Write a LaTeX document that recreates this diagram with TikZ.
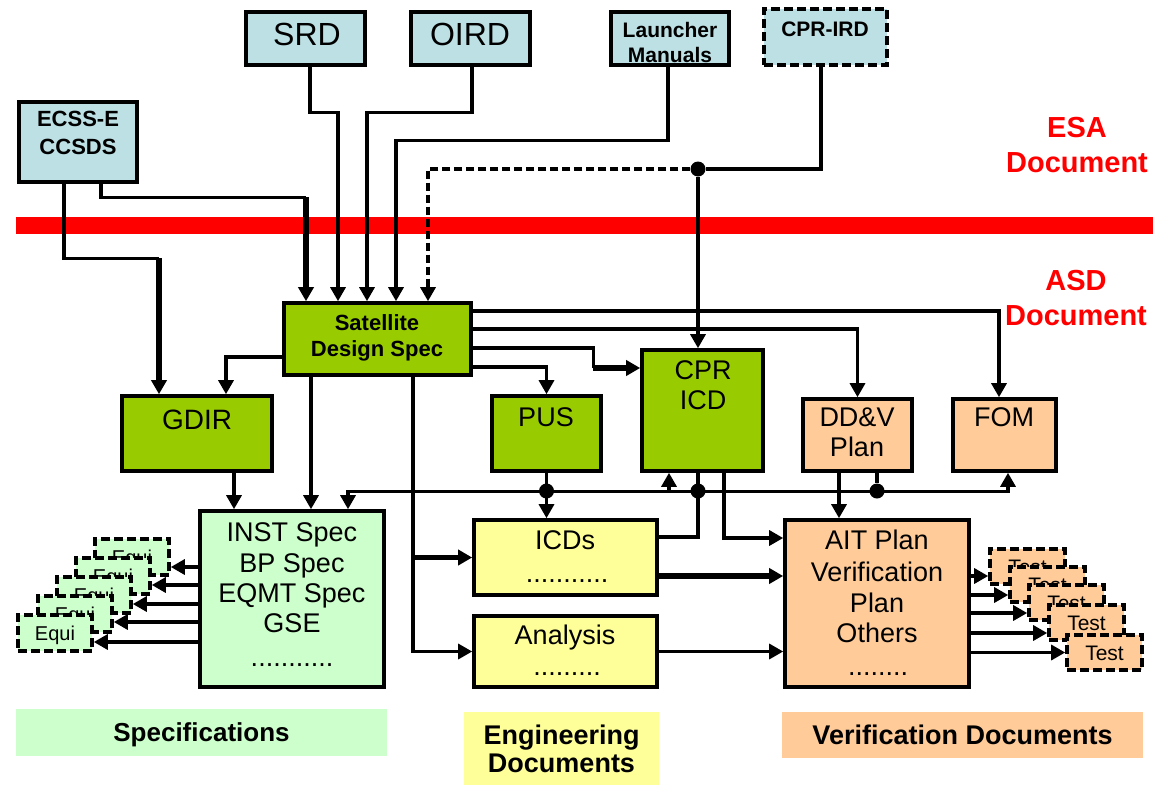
\documentclass[tikz,border=0pt]{standalone}
\usepackage{fontspec}
\setmainfont{Liberation Sans}
\usetikzlibrary{arrows.meta}
\definecolor{esablue}{RGB}{188,224,228}
\definecolor{asdgreen}{RGB}{153,204,0}
\definecolor{specgreen}{RGB}{204,255,204}
\definecolor{engyellow}{RGB}{255,255,153}
\definecolor{veforange}{RGB}{255,204,153}
\begin{document}
\begin{tikzpicture}[x=1pt, y=-1pt,
  >={Triangle[length=14pt,width=15pt]},
  docbox/.style={draw, line width=3.6pt, inner sep=0pt},
  esabox/.style={docbox, fill=esablue},
  asdbox/.style={docbox, fill=asdgreen},
  specbox/.style={docbox, fill=specgreen},
  engbox/.style={docbox, fill=engyellow},
  verbox/.style={docbox, fill=veforange},
  dashbox/.style={dash pattern=on 9pt off 4pt},
  equibox/.style={specbox, dashbox, minimum width=74pt, minimum height=36pt,
    font=\fontsize{20}{24}\selectfont, text height=14.3pt, text depth=0pt},
  testbox/.style={verbox, dashbox, minimum width=75pt, minimum height=35pt,
    font=\fontsize{21}{24}\selectfont, text height=15pt, text depth=0pt},
  lbl/.style={inner sep=0pt, text depth=0pt, text height=19.3pt, font=\fontsize{27}{31}\selectfont},
  lblbig/.style={lbl, text height=22.9pt, font=\fontsize{32}{36}\selectfont},
  lblsm/.style={lbl, text height=15pt, font=\bfseries\fontsize{21}{24}\selectfont},
  lblmid/.style={lbl, text height=15.8pt, font=\bfseries\fontsize{22}{25}\selectfont},
  dotrow/.style={inner sep=0pt, anchor=base, font=\fontsize{27}{31}\selectfont},
  redlbl/.style={inner sep=0pt, align=center, text=red, font=\bfseries\fontsize{29}{34.5}\selectfont},
  catlbl/.style={inner sep=0pt, font=\bfseries\fontsize{27}{28}\selectfont},
  conn/.style={draw, line width=3.2pt},
  heavy/.style={draw, line width=5.5pt},
  dashconn/.style={conn, dash pattern=on 8pt off 4pt},
  dot/.style={circle, fill=black, inner sep=0pt, minimum size=15pt}]
\useasboundingbox (0,0) rectangle (1153,785);

% border between ESA and ASD documents
\fill[red] (16,217) rectangle (1153,234);
\node[redlbl] (esa-l) at (1077,145) {ESA\\Document};
\node[redlbl] (asd-l) at (1076,298) {ASD\\Document};

% ESA documents
\node[esabox, minimum width=119pt, minimum height=53pt] (srd) at (305.5,38.5) {};
\node[esabox, minimum width=119pt, minimum height=53pt] (oird) at (470.5,38.5) {};
\node[esabox, minimum width=118pt, minimum height=53pt] (lm) at (670,38.5) {};
\node[esabox, dashbox, minimum width=123pt, minimum height=56pt] (cprird) at (825.5,37) {};
\node[esabox, minimum width=118pt, minimum height=80pt] (ecss) at (78,142) {};
\node[lblbig] (srd-t) at (307,34) {SRD};
\node[lblbig] (oird-t) at (470,34) {OIRD};
\node[lblsm] (lm-t1) at (670,30) {Launcher};
\node[lblsm] (lm-t2) at (670,55) {Manuals};
\node[lblsm] (cprird-t) at (825,29) {CPR-IRD};
\node[lblmid] (ecss-t1) at (78,119) {ECSS-E};
\node[lblmid] (ecss-t2) at (78,147) {CCSDS};

% ASD documents
\node[asdbox, minimum width=187pt, minimum height=72pt] (sds) at (377.5,339) {};
\node[lblmid] (sds-t1) at (377,323) {Satellite};
\node[lblmid] (sds-t2) at (377,349) {Design Spec};
\node[asdbox, minimum width=150pt, minimum height=75pt] (gdir) at (197,433.5) {};
\node[lbl, font=\fontsize{28}{31}\selectfont, text height=20pt] (gdir-t) at (197,419) {GDIR};
\node[asdbox, minimum width=109pt, minimum height=75pt] (pus) at (546.5,433.5) {};
\node[lbl] (pus-t) at (546,417) {PUS};
\node[asdbox, minimum width=121pt, minimum height=121pt] (cpricd) at (702.5,410.5) {};
\node[lbl] (cpricd-t1) at (703,370) {CPR};
\node[lbl] (cpricd-t2) at (703,400) {ICD};
\node[verbox, minimum width=109pt, minimum height=72pt] (ddv) at (857.5,435) {};
\node[lbl] (ddv-t1) at (857,417) {DD\&V};
\node[lbl] (ddv-t2) at (857,447) {Plan};
\node[verbox, minimum width=103pt, minimum height=72pt] (fom) at (1004.5,435) {};
\node[lbl] (fom-t) at (1004,417) {FOM};

% specifications
\node[specbox, minimum width=184pt, minimum height=176pt] (inst) at (292,599) {};
\node[lbl] (inst-t1) at (292,532) {INST Spec};
\node[lbl] (inst-t2) at (292,563) {BP Spec};
\node[lbl] (inst-t3) at (292,593) {EQMT Spec};
\node[lbl] (inst-t4) at (292,623) {GSE};
\node[dotrow] (inst-t5) at (292,666) {...........};
\node[equibox] (eq1) at (132,557) {Equi};
\node[equibox] (eq2) at (113,576) {Equi};
\node[equibox] (eq3) at (94,595) {Equi};
\node[equibox] (eq4) at (75,614) {Equi};
\node[equibox] (eq5) at (55,633) {Equi};

% engineering documents
\node[engbox, minimum width=183pt, minimum height=75pt] (icds) at (565.5,557.5) {};
\node[lbl] (icds-t) at (565,540) {ICDs};
\node[dotrow] (icds-d) at (567,582) {...........};
\node[engbox, minimum width=183pt, minimum height=71pt] (anal) at (565.5,651.5) {};
\node[lbl] (anal-t) at (565,635) {Analysis};
\node[dotrow] (anal-d) at (567,675) {.........};

% verification documents
\node[verbox, minimum width=184pt, minimum height=167pt] (ait) at (877,603.5) {};
\node[lbl] (ait-t1) at (877,540) {AIT Plan};
\node[lbl] (ait-t2) at (877,572) {Verification};
\node[lbl] (ait-t3) at (877,603) {Plan};
\node[lbl] (ait-t4) at (877,633) {Others};
\node[dotrow] (ait-d) at (878,675) {........};
\node[testbox] (ts1) at (1027.5,566.5) {Test};
\node[testbox] (ts2) at (1047.5,584.5) {Test};
\node[testbox] (ts3) at (1066.5,602.5) {Test};
\node[testbox] (ts4) at (1086.5,622.5) {Test};
\node[testbox] (ts5) at (1104.5,652.5) {Test};

% category captions
\node[fill=specgreen, minimum width=371pt, minimum height=47pt, inner sep=0pt,
  font=\bfseries\fontsize{26}{28}\selectfont, text height=18.6pt, text depth=0pt]
  (spec-l) at (201.5,732.5) {Specifications};
\node[fill=engyellow, minimum width=195pt, minimum height=73pt, catlbl, align=center]
  (eng-l) at (561.5,748.5) {Engineering\\Documents};
\node[fill=veforange, minimum width=361pt, minimum height=46pt, catlbl,
  text height=19.3pt, text depth=0pt] (ver-l) at (962.5,735) {Verification Documents};

% inputs to the satellite design spec
\draw[conn] ([xshift=-14pt]ecss.south) |- ([xshift=-38pt,yshift=136pt]gdir.north) coordinate (eg);
\draw[heavy,->] (eg) -- ([xshift=-38pt]gdir.north);
\draw[conn] ([xshift=23pt]ecss.south) |- ([xshift=-71.5pt,yshift=104pt]sds.north) coordinate (es);
\draw[heavy,->] (es) -- ([xshift=-71.5pt]sds.north);
\draw[conn,->] ([xshift=4.5pt]srd.south) |- ([xshift=-39.5pt,yshift=189pt]sds.north) -- ([xshift=-39.5pt]sds.north);
\draw[conn,->] ([xshift=1.5pt]oird.south) |- ([xshift=-10.5pt,yshift=189pt]sds.north) -- ([xshift=-10.5pt]sds.north);
\draw[conn,->] ([xshift=-2pt]lm.south) |- ([xshift=18.5pt,yshift=161pt]sds.north) -- ([xshift=18.5pt]sds.north);
\node[dot] (j1) at (698,169) {};
\draw[conn] ([xshift=-4.5pt]cprird.south) |- (j1);
\draw[conn,->] (j1) -- (j1 |- cpricd.north);
\draw[dashconn,->] (j1) -| ([xshift=50.5pt]sds.north);

% outputs of the satellite design spec
\draw[conn,->] ([yshift=-18pt]sds.west) -| ([xshift=29pt]gdir.north);
\draw[conn,->] ([xshift=-66.5pt]sds.south) -- ([xshift=-66.5pt]sds.south |- inst.north);
\draw[conn,->] ([xshift=37pt]gdir.south) -- ([xshift=37pt]gdir.south |- inst.north);
\draw[conn,->] ([xshift=35.5pt]sds.south) |- (anal.west);
\draw[heavy,->] ([xshift=35.5pt]sds.south |- icds.west) -- (icds.west);
\draw[conn,->] ([yshift=28pt]sds.east) -| ([xshift=-5.5pt]fom.north);
\draw[conn,->] ([yshift=10pt]sds.east) -| (ddv.north);
\draw[conn] ([yshift=-9pt]sds.east) -| ([xshift=-47pt,yshift=42.5pt]cpricd.west) coordinate (sc);
\draw[heavy,->] (sc) -- ([yshift=42.5pt]cpricd.west);
\draw[conn,->] ([yshift=-28pt]sds.east) -| (pus.north);

% distribution bus below the ASD level documents
\node[dot] (j2) at (546.5,491) {};
\node[dot] (j3) at (698,491) {};
\node[dot] (j4) at (877,491) {};
\draw[conn,<->] ([xshift=56pt]inst.north) -- ++(0,-18) -| ([xshift=3.5pt]fom.south);
\draw[conn,->] (pus.south) -- (pus.south |- icds.north);
\draw[conn,->] ([xshift=-33.5pt]cpricd.south |- j2) -- ([xshift=-33.5pt]cpricd.south);
\draw[conn] ([xshift=-4.5pt]cpricd.south) |- ([yshift=20.5pt]icds.east);
\draw[conn,->] ([xshift=21.5pt]cpricd.south) |- ([yshift=65.5pt]ait.west);
\draw[conn] ([xshift=19.5pt]ddv.south) -- (j4);
\draw[conn,->] ([xshift=-18.5pt]ddv.south) -- ([xshift=-18.5pt]ddv.south |- ait.north);
\draw[heavy,->] ([yshift=-18.5pt]icds.east) -- ([yshift=-18.5pt]icds.east -| ait.west);
\draw[conn,->] (anal.east) -- (anal.east -| ait.west);

% equipment specifications and test procedures
\foreach \b/\s in {eq1/-10pt, eq2/-9pt, eq3/-9pt, eq4/-8pt, eq5/-9pt}
  \draw[conn,->] ([yshift=\s]\b.east -| inst.west) -- ([yshift=\s]\b.east);
\foreach \b/\s in {ts1/-9.5pt, ts2/-10.5pt, ts3/-10.5pt, ts4/-10.5pt, ts5/0pt}
  \draw[conn,->] ([yshift=\s]\b.west -| ait.east) -- ([yshift=\s]\b.west);
\end{tikzpicture}
\end{document}
